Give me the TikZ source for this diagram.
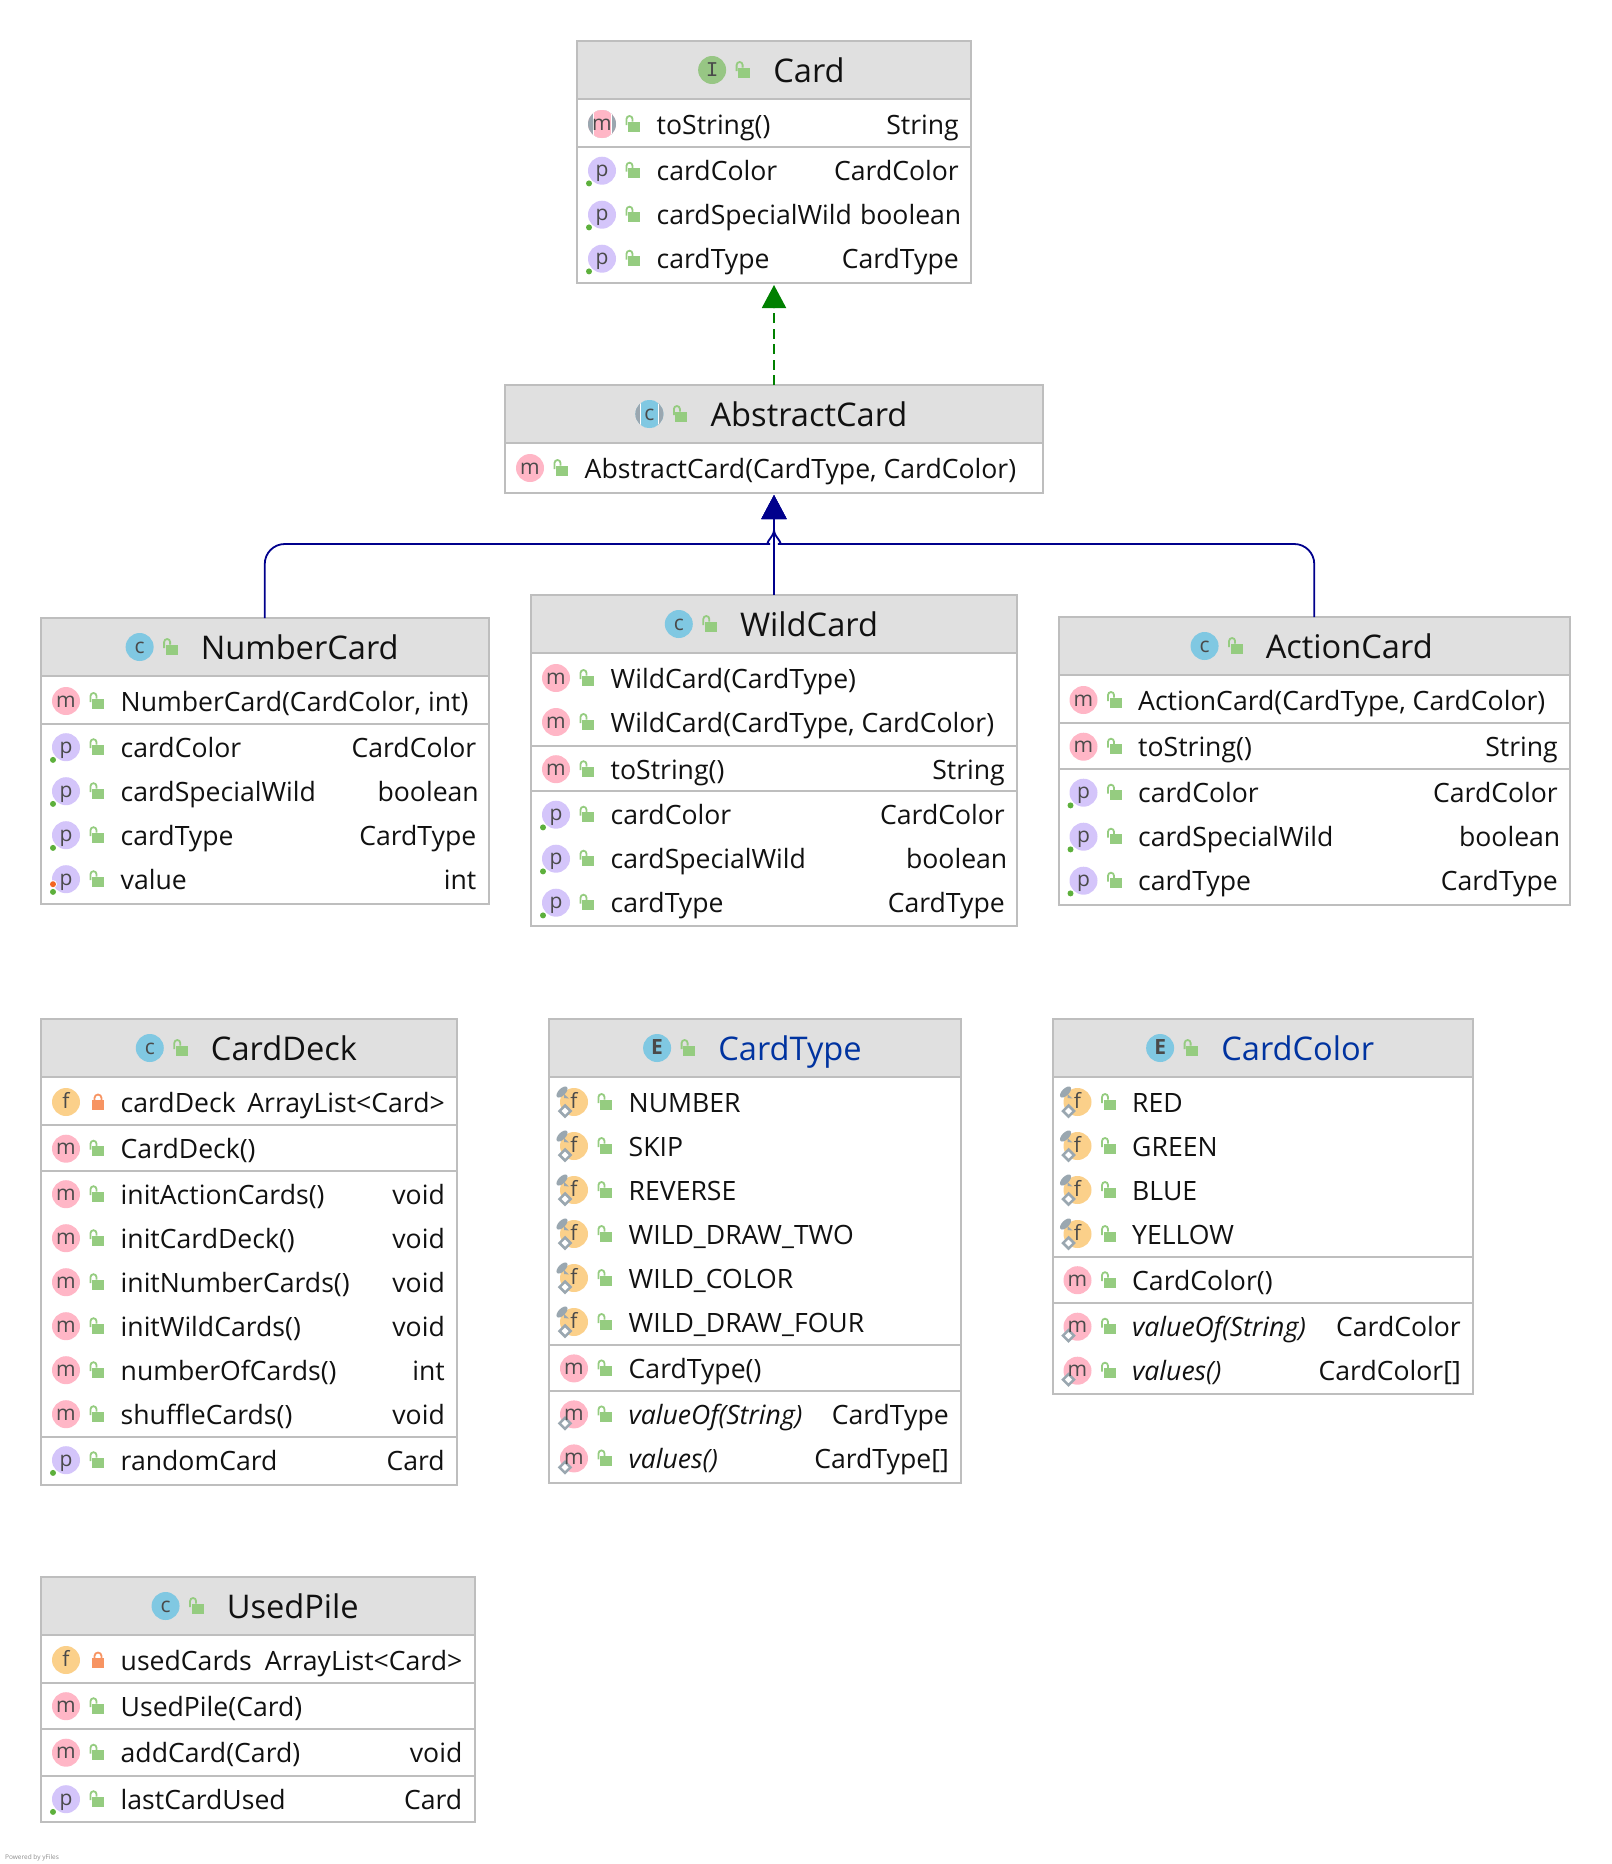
\documentclass[tikz,border=0pt]{standalone}
\usepackage{fontspec}
\setmainfont{Open Sans}
\setmonofont{Liberation Mono}
\usetikzlibrary{arrows.meta,calc}

\definecolor{umlborder}{HTML}{BEBEBE}
\definecolor{umlhead}{HTML}{E0E0E0}
\definecolor{umltext}{HTML}{111111}
\definecolor{enumtitle}{HTML}{0033A0}
\definecolor{iconm}{HTML}{FFB6C6}
\definecolor{iconp}{HTML}{D4C5FA}
\definecolor{iconf}{HTML}{FBD08A}
\definecolor{iconc}{HTML}{80C8E2}
\definecolor{iconi}{HTML}{97C684}
\definecolor{iconletter}{HTML}{4A4A4A}
\definecolor{markgray}{HTML}{9AA7B0}
\definecolor{lockgreen}{HTML}{95CC80}
\definecolor{lockorange}{HTML}{F79462}
\definecolor{dotgreen}{HTML}{5DB03C}
\definecolor{dotorange}{HTML}{F26522}

\newcommand\rowfont{\fontsize{26.6}{30}\selectfont}
\newcommand\titlefont{\fontsize{32.6}{36}\selectfont}
\newcommand\booltype{boolean\kern-2.5pt}

\tikzset{
  umlbody/.style={draw=umlborder, line width=2pt, anchor=north west, outer sep=0pt, inner sep=0pt},
  umlheader/.style={umlbody, fill=umlhead, minimum height=58pt},
  umlline/.style={draw=umlborder, line width=2pt},
  umltitle/.style={anchor=base, inner sep=0pt, font=\titlefont, text=umltext},
  rowname/.style={anchor=base west, inner sep=0pt, font=\rowfont, text=umltext},
  rowtype/.style={anchor=base east, inner sep=0pt, font=\rowfont, text=umltext},
  iconglyph/.style={anchor=base, inner sep=0pt, font=\fontsize{21}{24}\selectfont, text=iconletter},
  implline/.style={draw=green!50!black, line width=2pt, dashed, dash pattern=on 10pt off 5.5pt, shorten >=2pt,
    -{Triangle[length=23pt,width=24pt]}},
  extline/.style={draw=blue!55!black, line width=1.8pt, shorten >=2pt,
    -{Triangle[length=24pt,width=25pt]}},
}

\newcommand\lockopen{
  \fill[lockgreen] (26,-2.3) rectangle (38,7.7);
  \draw[lockgreen, line width=1.8pt] (24.5,1) -- (24.5,-5) arc (180:360:3) -- (30.5,-2.5);
}
\newcommand\lockclosed{
  \fill[lockorange] (26,-2) rectangle (38,8);
  \draw[lockorange, line width=1.8pt] (28.5,-2) -- (28.5,-4) arc (180:360:3.5) -- (35.5,-2);
}
\let\rowlock\lockopen

\newcommand\greendot{
  \fill[white] (-13,12.7) circle (4);
  \fill[dotgreen] (-13,12.7) circle (3);
}
\newcommand\orangedot{
  \fill[white] (-13,5) circle (4);
  \fill[dotorange] (-13,5) circle (3);
}
\newcommand\pinmark{
  \fill[markgray, rotate around={45:(-12,-10)}] (-12,-10) ellipse (7 and 3.5);
  \fill[markgray] (-10,-8) -- (-5,-3.5) -- (-10,-4) -- cycle;
}
\newcommand\staticmark{
  \draw[markgray, line width=2.5pt, fill=white] (-9,3.5) -- (-3.5,9) -- (-9,14.5) -- (-14.5,9) -- cycle;
}
\newcommand\abstractmark[1]{
  \fill[markgray] (0,0) circle (14);
  \begin{scope}
    \clip (0,0) circle (14);
    \fill[white] (-9.5,-14) rectangle (9.5,14);
    \fill[#1] (-8.5,-14) rectangle (8.5,14);
  \end{scope}
}

\newcounter{rownum}
\newcommand\umlbox[8][]{
  \def\boxname{#2}\def\boxl{#3}
  \setcounter{rownum}{0}
  \node (#2-head) [umlheader, minimum width=#5pt] at (#3,#4) {};
  \node (#2) [umlbody, minimum width=#5pt, minimum height=#6pt] at (#3,#4) {};
  \node (#2-title) [umltitle] at (#3+#5/2+35,#4+41) {#8};
  \begin{scope}[shift={($(#2-title.base west)+(-61,-12)$)}]
    \fill[#7] (0,0) circle (14);
    #1
    \lockopen
  \end{scope}
  \pgfmathparse{#4+83}\let\rowy\pgfmathresult
}
\newcommand\boxglyph[1]{
  \node (\boxname-glyph) [iconglyph] at ($(\boxname-title.base west)+(-61,-6)$) {#1};
}
\newcommand\umlrow[5][]{
  \stepcounter{rownum}
  \begin{scope}[shift={(\boxl+25,\rowy)}]
    \fill[#2] (0,0) circle (14);
    #1
    \node (\boxname-i\therownum) [iconglyph] at (0,6) {#3};
    \rowlock
  \end{scope}
  \node (\boxname-n\therownum) [rowname] at (\boxl+79.5,\rowy+10) {#4};
  \if\relax\detokenize{#5}\relax\else
    \node (\boxname-t\therownum) [rowtype] at ($(\boxname.east |- 0,\rowy+10)+(-12,0)$) {#5};
  \fi
  \pgfmathparse{\rowy+44}\let\rowy\pgfmathresult
}
\newcommand\umlsep[1]{
  \draw[umlline] (\boxname.west |- 0,#1) -- (\boxname.east |- 0,#1);
  \pgfmathparse{#1+23.7}\let\rowy\pgfmathresult
}
\newcommand\rowm[2]{\umlrow{iconm}{m}{#1}{#2}}
\newcommand\rowp[2]{\umlrow[\greendot]{iconp}{p}{#1}{#2}}
\newcommand\rowstatic[2]{\umlrow[\staticmark]{iconm}{m}{\textit{#1}}{#2}}
\newcommand\rowconst[1]{\umlrow[\pinmark\staticmark]{iconf}{f}{#1}{}}
\newcommand\rowprivate[2]{
  \let\rowlock\lockclosed
  \umlrow{iconf}{f}{#1}{#2}
  \let\rowlock\lockopen
}

\begin{document}
\begin{tikzpicture}[x=1pt, y=-1pt]
  \useasboundingbox (0,0) rectangle (1612,1864);

  \umlbox{card}{577}{41}{394}{242}{iconi}{Card}
  \boxglyph{\ttfamily I}
  \umlrow[\abstractmark{iconm}]{iconm}{m}{toString()}{String}
  \umlsep{147}
  \rowp{cardColor}{CardColor}
  \rowp{cardSpecialWild}{\booltype}
  \rowp{cardType}{CardType}

  \umlbox[\abstractmark{iconc}]{abstractcard}{505}{385}{538}{108}{iconc}{AbstractCard}
  \boxglyph{c}
  \rowm{AbstractCard(CardType, CardColor)}{}

  \umlbox{numbercard}{41}{618}{447.5}{286}{iconc}{NumberCard}
  \boxglyph{c}
  \rowm{NumberCard(CardColor, int)}{}
  \umlsep{723.5}
  \rowp{cardColor}{CardColor}
  \rowp{cardSpecialWild}{\booltype}
  \rowp{cardType}{CardType}
  \umlrow[\orangedot\greendot]{iconp}{p}{value}{int}

  \umlbox{wildcard}{531}{595}{486}{331}{iconc}{WildCard}
  \boxglyph{c}
  \rowm{WildCard(CardType)}{}
  \rowm{WildCard(CardType, CardColor)}{}
  \umlsep{745.5}
  \rowm{toString()}{String}
  \umlsep{791}
  \rowp{cardColor}{CardColor}
  \rowp{cardSpecialWild}{\booltype}
  \rowp{cardType}{CardType}

  \umlbox{actioncard}{1058.5}{617}{511.5}{288}{iconc}{ActionCard}
  \boxglyph{c}
  \rowm{ActionCard(CardType, CardColor)}{}
  \umlsep{723}
  \rowm{toString()}{String}
  \umlsep{769}
  \rowp{cardColor}{CardColor}
  \rowp{cardSpecialWild}{\booltype}
  \rowp{cardType}{CardType}

  \umlbox{carddeck}{41}{1019}{416}{465.5}{iconc}{CardDeck}
  \boxglyph{c}
  \rowprivate{cardDeck}{ArrayList<Card>}
  \umlsep{1125}
  \rowm{CardDeck()}{}
  \umlsep{1170.5}
  \rowm{initActionCards()}{void}
  \rowm{initCardDeck()}{void}
  \rowm{initNumberCards()}{void}
  \rowm{initWildCards()}{void}
  \rowm{numberOfCards()}{int}
  \rowm{shuffleCards()}{void}
  \umlsep{1436.5}
  \rowp{randomCard}{Card}

  \umlbox{cardtype}{549}{1019}{412}{464}{iconc}{\textcolor{enumtitle}{CardType}}
  \boxglyph{\bfseries E}
  \rowconst{NUMBER}
  \rowconst{SKIP}
  \rowconst{REVERSE}
  \rowconst{WILD\_DRAW\_TWO}
  \rowconst{WILD\_COLOR}
  \rowconst{WILD\_DRAW\_FOUR}
  \umlsep{1344.7}
  \rowm{CardType()}{}
  \umlsep{1390.7}
  \rowstatic{valueOf(String)}{CardType}
  \rowstatic{values()}{CardType[]}

  \umlbox{cardcolor}{1052.5}{1019}{420.5}{375}{iconc}{\textcolor{enumtitle}{CardColor}}
  \boxglyph{\bfseries E}
  \rowconst{RED}
  \rowconst{GREEN}
  \rowconst{BLUE}
  \rowconst{YELLOW}
  \umlsep{1256.5}
  \rowm{CardColor()}{}
  \umlsep{1303}
  \rowstatic{valueOf(String)}{CardColor}
  \rowstatic{values()}{CardColor[]}

  \umlbox{usedpile}{41}{1577}{433.5}{245}{iconc}{UsedPile}
  \boxglyph{c}
  \rowprivate{usedCards}{ArrayList<Card>}
  \umlsep{1682.5}
  \rowm{UsedPile(Card)}{}
  \umlsep{1729}
  \rowm{addCard(Card)}{void}
  \umlsep{1775.5}
  \rowp{lastCardUsed}{Card}

  \coordinate (busleft) at (750,544);
  \coordinate (busright) at (798,544);
  \coordinate (busjoin) at (abstractcard.south |- 0,530);

  \draw[implline] (abstractcard.north) -- (card.south);
  \draw[extline] (wildcard.north) -- (abstractcard.south);
  \draw[extline] [rounded corners=20pt] (numbercard.north) |- (busleft) [sharp corners] .. controls +(13,0) and +(0,7) .. (busjoin) -- (abstractcard.south);
  \draw[extline] [rounded corners=20pt] (actioncard.north) |- (busright) [sharp corners] .. controls +(-13,0) and +(0,7) .. (busjoin) -- (abstractcard.south);

  \node (credit) [anchor=base west, inner sep=0pt, font=\fontsize{6.5}{8}\selectfont, text=black!45] at (5,1859) {Powered by yFiles};
\end{tikzpicture}
\end{document}
